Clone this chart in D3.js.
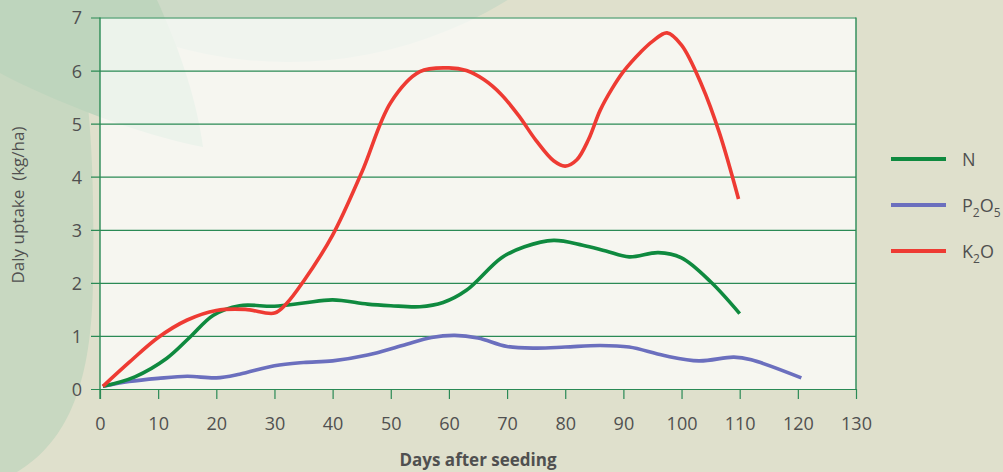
<!DOCTYPE html>
<html><head><meta charset="utf-8">
<script src="https://cdn.jsdelivr.net/npm/d3@7"></script>
<style>html,body{margin:0;padding:0;background:#dfe0cc;}svg{display:block;}</style>
</head><body>
<svg id="c" width="1003" height="472"></svg>
<script>
// ---- data ----
const xTicks = [0,10,20,30,40,50,60,70,80,90,100,110,120,130];
const yTicks = [0,1,2,3,4,5,6,7];
const seriesNames = ["N","P2O5","K2O"];
const nDays = [0.5,6,11.5,15.5,19.5,24,30,35,40,46,50,55,59,63,69,73,78,83,87,91,96,100,105,110];
const nVals = [0.05,0.23,0.58,0.98,1.39,1.57,1.56,1.62,1.68,1.6,1.57,1.55,1.63,1.86,2.47,2.68,2.8,2.71,2.6,2.49,2.57,2.47,2.02,1.42];
const pDays = [0.5,5,10,15,20,24,30,35,40,46,52,57,61,65,70,75,80,86,91,97,103,109,112,120.6];
const pVals = [0.05,0.14,0.2,0.24,0.21,0.28,0.44,0.5,0.53,0.64,0.82,0.97,1.01,0.96,0.8,0.77,0.79,0.82,0.79,0.63,0.53,0.6,0.55,0.21];
const kDays = [0.5,5,10,15,20,25,30,32,35,40,45,50,55,60,63,66,69,72,75,78,80,82,84,86,88,90,93,95,97.5,100,103.5,106.5,109.8];
const kVals = [0.05,0.5,0.97,1.3,1.48,1.5,1.43,1.6,2.03,2.9,4.08,5.4,5.98,6.05,6.0,5.83,5.55,5.15,4.68,4.3,4.2,4.32,4.7,5.25,5.65,5.98,6.35,6.55,6.71,6.48,5.72,4.83,3.58];
const colors = ["#0f8a3f","#6b6fbe","#ee3b33"];

const svg = d3.select("#c");
// ---- decorative background ----
const bg = svg.append("g");
bg.append("rect").attr("width",1003).attr("height",472).attr("fill","#dfe0cc");
bg.append("circle").attr("cx",288).attr("cy",-358).attr("r",420).attr("fill","#cddac7");
bg.append("path").attr("d","M0,0 L70,0 C90,80 95,160 93,280 C92,380 70,440 17,472 L0,472 Z").attr("fill","#c8d8c1");
bg.append("path").attr("d","M0,0 L157,0 C175,40 195,90 203,147 C140,135 50,100 0,73 Z").attr("fill","#bed5bd");

const m = {l:100, r:856, t:17.5, b:389};
const x = d3.scaleLinear().domain([0,130]).range([m.l,m.r]);
const y = d3.scaleLinear().domain([0,7]).range([m.b,m.t]);

svg.append("rect").attr("x",m.l).attr("y",m.t).attr("width",m.r-m.l).attr("height",m.b-m.t)
  .attr("fill","#ffffff").attr("fill-opacity",0.7);

const grid = "#2a8a55";
const yAxis = d3.axisLeft(y).tickValues(yTicks).tickFormat(d3.format("d")).tickSize(-(m.r-m.l)).tickPadding(12);
const gy = svg.append("g").attr("transform",`translate(${m.l},0)`).call(yAxis);
gy.select(".domain").remove();
gy.selectAll(".tick line").attr("x1",-9).attr("stroke",grid).attr("stroke-width",1.2);
gy.selectAll(".tick text").attr("font-family","'Open Sans',sans-serif").attr("font-size",18)
  .attr("fill","#505050").attr("dy","0.36em").attr("x",-18);

const xAxis = d3.axisBottom(x).tickValues(xTicks).tickFormat(d3.format("d")).tickSize(10).tickPadding(12);
const gx = svg.append("g").attr("transform",`translate(0,${m.b})`).call(xAxis);
gx.select(".domain").attr("stroke",grid).attr("stroke-width",1.2).attr("d",`M${m.l-9},0.5H${m.r}`);
gx.selectAll(".tick line").attr("stroke",grid).attr("stroke-width",1.2);
gx.selectAll(".tick text").attr("font-family","'Open Sans',sans-serif").attr("font-size",18)
  .attr("fill","#505050").attr("dy","1.05em");

svg.append("line").attr("x1",x(0)).attr("x2",x(0)).attr("y1",m.t).attr("y2",m.b+10).attr("stroke",grid).attr("stroke-width",1.4);
svg.append("line").attr("x1",x(130)).attr("x2",x(130)).attr("y1",m.t).attr("y2",m.b).attr("stroke",grid).attr("stroke-width",1.4);

const line = d3.line().x(d=>x(d[0])).y(d=>y(d[1])).curve(d3.curveCatmullRom.alpha(0.5));
const series = [d3.zip(nDays,nVals), d3.zip(pDays,pVals), d3.zip(kDays,kVals)];
[1,0,2].forEach(i=>{
  svg.append("path").datum(series[i]).attr("d",line).attr("fill","none")
    .attr("stroke",colors[i]).attr("stroke-width",3.6).attr("stroke-linejoin","round");
});

svg.append("text").attr("x",478).attr("y",466).attr("text-anchor","middle")
  .attr("font-family","'Open Sans',sans-serif").attr("font-weight","bold").attr("font-size",17)
  .attr("fill","#505050").text("Days after seeding");
svg.append("text").attr("transform","translate(24,205) rotate(-90)").attr("text-anchor","middle")
  .attr("font-family","'Open Sans',sans-serif").attr("font-size",17).attr("fill","#505050")
  .style("white-space","pre").text("Daly uptake  (kg/ha)");

const leg = svg.append("g");
const legY = [159,205,251];
const labels = [[["N",""]],[["P",""],["2","sub"],["O",""],["5","sub"]],[["K",""],["2","sub"],["O",""]]];
seriesNames.forEach((s,i)=>{
  leg.append("line").attr("x1",891).attr("x2",946).attr("y1",legY[i]).attr("y2",legY[i])
    .attr("stroke",colors[i]).attr("stroke-width",4);
  const t = leg.append("text").attr("x",962).attr("y",legY[i]+7)
    .attr("font-family","'Open Sans',sans-serif").attr("font-size",18).attr("fill","#505050");
  labels[i].forEach((p,j)=>{
    const ts = t.append("tspan").text(p[0]);
    if(p[1]==="sub") ts.attr("font-size",12).attr("dy",5);
    else ts.attr("dy", j>0 ? -5 : 0);
  });
});
</script>
</body></html>
